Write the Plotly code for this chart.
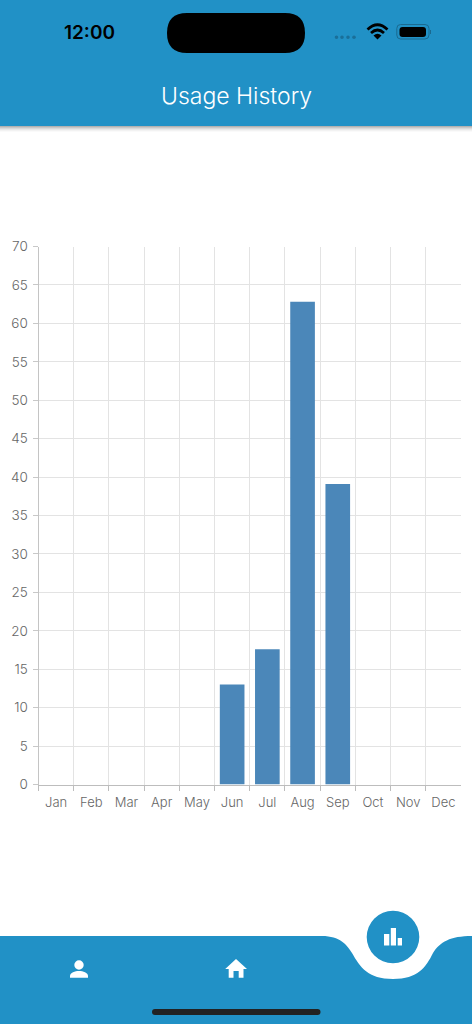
"""Usage history screen: monthly bars inside a phone-style frame."""

import plotly.graph_objects as go

MONTHS = ["Jan", "Feb", "Mar", "Apr", "May", "Jun", "Jul", "Aug", "Sep", "Oct", "Nov", "Dec"]
USAGE = [0, 0, 0, 0, 0, 13.0, 17.6, 62.8, 39.1, 0, 0, 0]
Y_TICKS = list(range(0, 75, 5))

WIDTH = 472
HEIGHT = 1024
BLUE = "#2191c6"
FONT = "Inter"


def rect(x0, y0, x1, y1, color, opacity=1):
    return dict(type="rect", xref="x2", yref="y2", x0=x0, y0=y0, x1=x1, y1=y1,
                fillcolor=color, opacity=opacity, line_width=0, layer="above")


def path(d, color, stroke=None, width=0):
    shape = dict(type="path", xref="x2", yref="y2", path=d, layer="above",
                 fillcolor=color, line=dict(width=width, color=stroke or "rgba(0,0,0,0)"))
    return shape


def pill(x0, y0, x1, y1, r, color):
    return path(
        f"M{x0 + r} {y0} L{x1 - r} {y0} Q{x1} {y0} {x1} {y0 + r} L{x1} {y1 - r} "
        f"Q{x1} {y1} {x1 - r} {y1} L{x0 + r} {y1} Q{x0} {y1} {x0} {y1 - r} "
        f"L{x0} {y0 + r} Q{x0} {y0} {x0 + r} {y0} Z",
        color,
    )


def circle(cx, cy, r, color):
    return dict(type="circle", xref="x2", yref="y2", x0=cx - r, y0=cy - r, x1=cx + r, y1=cy + r,
                fillcolor=color, line_width=0, layer="above")


shapes = [rect(0, 0, WIDTH, 126, BLUE)]

# soft shadow under the app bar
for i, alpha in enumerate([0.30, 0.22, 0.15, 0.09, 0.05, 0.02]):
    shapes.append(rect(0, 126 + i, WIDTH, 127 + i, "#000000", alpha))

# status bar
shapes.append(pill(167, 13, 305, 53, 20, "#000000"))
for x in (335.5, 341, 347, 353):
    shapes.append(circle(x + 1, 37.3, 1.8, "#1a6f99"))
shapes.append(path("M367.5 29.5 Q377.5 20 387.5 29.5", "rgba(0,0,0,0)", "#000000", 2.7))
shapes.append(path("M371 33 Q377.5 27 384 33", "rgba(0,0,0,0)", "#000000", 2.7))
shapes.append(path("M373.5 35.5 L377.5 39.5 L381.5 35.5 Q377.5 32 373.5 35.5 Z", "#000000"))
shapes.append(path("M400.5 24.5 L425 24.5 Q429 24.5 429 28.5 L429 35 Q429 39 425 39 "
                   "L400.5 39 Q396.8 39 396.8 35 L396.8 28.5 Q396.8 24.5 400.5 24.5 Z",
                   "rgba(0,0,0,0)", "#1a6a90", 1))
shapes.append(pill(399.5, 27, 426, 37, 3, "#000000"))
shapes.append(rect(430, 30, 431, 34, "#1a6a90"))

# bottom navigation with the notch for the active button
shapes.append(path(
    "M0 936 L322 936 C340 936 347 945 352 953 C360 967 368 979 393 979 "
    "C418 979 426 967 433 953 C440 942 450 936 472 936 L472 1024 L0 1024 Z",
    BLUE,
))
shapes.append(circle(393, 937, 26.3, BLUE))
shapes.append(rect(384, 934, 389.3, 945.5, "#ffffff"))
shapes.append(rect(390.8, 928, 396, 945.5, "#ffffff"))
shapes.append(rect(397.7, 938, 402, 945.5, "#ffffff"))
shapes.append(circle(79, 965, 4.7, "#ffffff"))
shapes.append(path("M70 977.7 L70 976 C70 972.5 75 971 79 971 C83 971 88 972.5 88 976 L88 977.7 Z", "#ffffff"))
shapes.append(path("M236 959 L247 969 L243.5 969 L243.5 977.7 L238.7 977.7 L238.7 971 "
                   "L233.5 971 L233.5 977.7 L228.7 977.7 L228.7 969 L225.2 969 Z", "#ffffff"))
shapes.append(pill(152, 1009, 320.5, 1015, 3, "#222222"))

fig = go.Figure(go.Bar(x=MONTHS, y=USAGE, marker=dict(color="#4b87b9", line=dict(width=0))))
# empty trace keeps the full-page overlay axes alive
fig.add_trace(go.Scatter(x=[], y=[], xaxis="x2", yaxis="y2", hoverinfo="skip"))

fig.update_layout(
    width=WIDTH,
    height=HEIGHT,
    margin=dict(l=0, r=0, t=0, b=0, pad=0, autoexpand=False),
    paper_bgcolor="white",
    plot_bgcolor="rgba(0,0,0,0)",
    showlegend=False,
    bargap=0.3,
    font=dict(family=FONT, color="#666666", size=13.5),
    xaxis=dict(
        domain=[38.5 / WIDTH, 461 / WIDTH],
        categoryorder="array",
        categoryarray=MONTHS,
        tickson="boundaries",
        ticks="outside",
        ticklen=5,
        tickcolor="#bdbdbd",
        tickfont=dict(size=13, weight=300),
        ticklabelstandoff=6,
        showgrid=True,
        gridcolor="#e3e3e3",
        showline=True,
        linecolor="#bdbdbd",
        tickangle=0,
        anchor="y",
    ),
    yaxis=dict(
        domain=[1 - 784.5 / HEIGHT, 1 - 246.5 / HEIGHT],
        range=[0, 70],
        tickvals=Y_TICKS,
        ticks="outside",
        ticklen=5,
        tickcolor="#c8c8c8",
        tickfont=dict(size=13.5, weight=300),
        ticklabelstandoff=2,
        showgrid=True,
        gridcolor="#e3e3e3",
        showline=True,
        linecolor="#c4c4c4",
        zeroline=False,
        anchor="x",
    ),
    xaxis2=dict(domain=[0, 1], range=[0, WIDTH], visible=False, anchor="y2", fixedrange=True),
    yaxis2=dict(domain=[0, 1], range=[HEIGHT, 0], visible=False, anchor="x2", fixedrange=True),
    shapes=shapes,
    annotations=[
        dict(text="12:00", xref="x2", yref="y2", x=89, y=32.5, showarrow=False,
             font=dict(family=FONT, size=19, color="#000000", weight=600)),
        dict(text="Usage History", xref="x2", yref="y2", x=236, y=96, showarrow=False,
             font=dict(family=FONT, size=23, color="#ffffff", weight=300)),
    ],
)

fig.write_html("out.html", config=dict(displayModeBar=False),
               post_script="document.body.style.margin='0';")
